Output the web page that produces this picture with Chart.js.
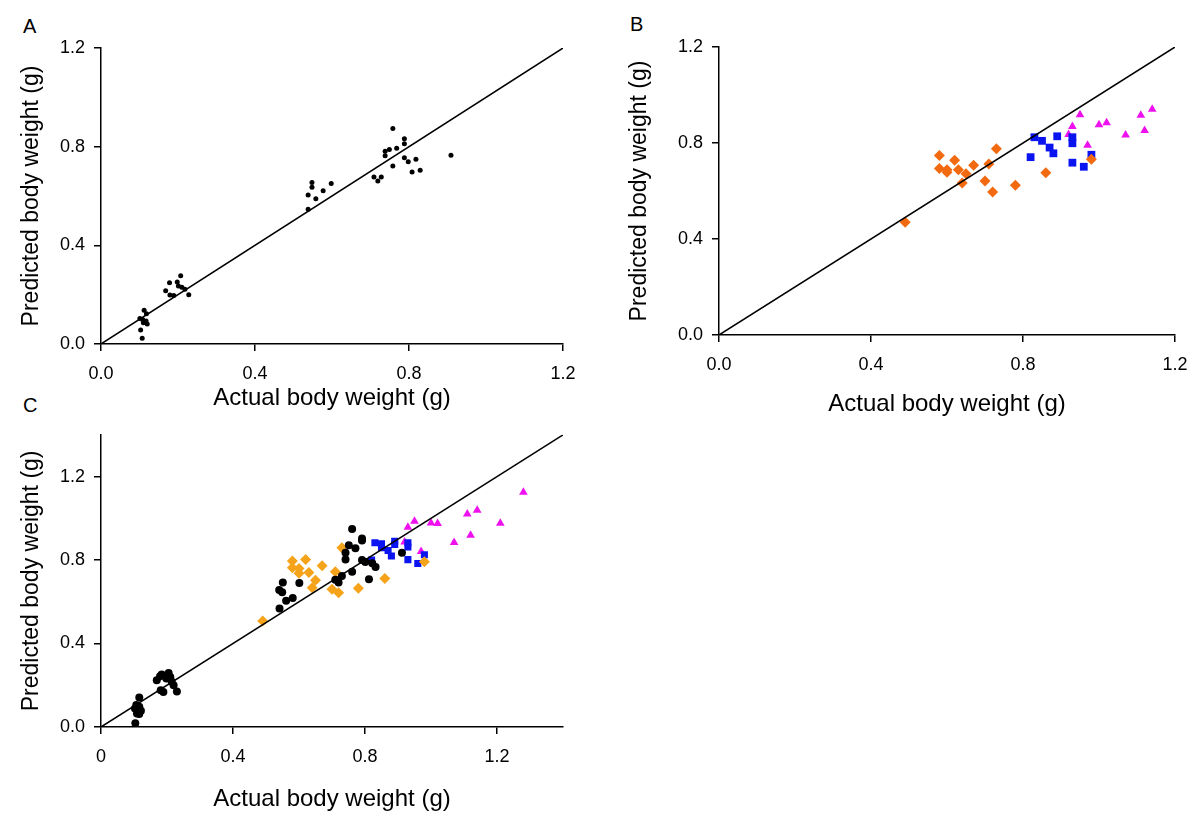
<!DOCTYPE html>
<html>
<head>
<meta charset="utf-8">
<script src="https://cdn.jsdelivr.net/npm/chart.js@4.4.1/dist/chart.umd.min.js"></script>
<style>
  body { margin: 0; background: #fff; width: 1200px; height: 826px; overflow: hidden; position: relative; font-family: "Liberation Sans", Arial, sans-serif; }
  .panel { position: absolute; }
  .letter { position: absolute; font-size: 20px; line-height: 20px; color: #000; }
</style>
</head>
<body>
<div class="letter" style="left:23px;top:16px">A</div>
<div class="letter" style="left:630px;top:14px">B</div>
<div class="letter" style="left:23px;top:395px">C</div>

<div class="panel" style="left:0;top:0"><canvas id="chart-a" width="600" height="415"></canvas></div>
<div class="panel" style="left:610px;top:0"><canvas id="chart-b" width="590" height="430"></canvas></div>
<div class="panel" style="left:0;top:415px"><canvas id="chart-c" width="600" height="411"></canvas></div>

<script>
const FONT = '"Liberation Sans", Arial, sans-serif';

// ---- tick labels ----
const ticksAB = [0, 0.4, 0.8, 1.2];
const ticksC = [0, 0.4, 0.8, 1.2];
const lineAB = [0, 1.2];
const lineC = [0, 1.4];

// ---- panel A: single model, all fish ----
const aActual = [0.107, 0.103, 0.120, 0.110, 0.117, 0.108, 0.101, 0.118, 0.112,
    0.168, 0.179, 0.189, 0.178, 0.198, 0.201, 0.207, 0.210, 0.218, 0.228,
    0.538, 0.538, 0.548, 0.548, 0.558, 0.577, 0.598, 0.709, 0.719, 0.728, 0.738, 0.738,
    0.749, 0.758, 0.758, 0.768, 0.788, 0.788, 0.788, 0.798, 0.808, 0.818, 0.829, 0.909];
const aPredicted = [0.023, 0.057, 0.081, 0.086, 0.093, 0.099, 0.103, 0.123, 0.137,
    0.216, 0.199, 0.197, 0.248, 0.251, 0.235, 0.277, 0.230, 0.222, 0.200,
    0.546, 0.604, 0.635, 0.655, 0.589, 0.621, 0.651, 0.677, 0.661, 0.677, 0.763, 0.781,
    0.789, 0.722, 0.874, 0.794, 0.832, 0.812, 0.755, 0.739, 0.697, 0.749, 0.704, 0.765];

// ---- panel B: three groups ----
const bOrangeX = [0.49, 0.58, 0.58, 0.60, 0.60, 0.62, 0.63, 0.65, 0.64, 0.67, 0.71, 0.73, 0.70, 0.72, 0.78, 0.86, 0.98];
const bOrangeY = [0.470, 0.748, 0.694, 0.689, 0.678, 0.728, 0.689, 0.672, 0.633, 0.707, 0.712, 0.776, 0.642, 0.596, 0.624, 0.676, 0.732];
const bBlueX = [0.83, 0.85, 0.87, 0.88, 0.82, 0.89, 0.93, 0.93, 0.93, 0.96, 0.98];
const bBlueY = [0.824, 0.809, 0.781, 0.757, 0.741, 0.828, 0.824, 0.799, 0.718, 0.701, 0.751];
const bPinkX = [0.92, 0.93, 0.95, 0.97, 1.00, 1.02, 1.07, 1.11, 1.12, 1.14];
const bPinkY = [0.835, 0.869, 0.918, 0.791, 0.876, 0.884, 0.833, 0.916, 0.852, 0.941];

// ---- panel C: combined ----
const cBlackX = [0.104, 0.116, 0.107, 0.116, 0.103, 0.113, 0.121, 0.109, 0.116,
    0.169, 0.179, 0.184, 0.205, 0.210, 0.198, 0.214, 0.220, 0.181, 0.189, 0.230,
    0.761, 0.791, 0.791, 0.751, 0.741, 0.771, 0.741, 0.791, 0.801, 0.822, 0.832, 0.761,
    0.730, 0.710, 0.720, 0.812, 0.912, 0.601, 0.551, 0.540, 0.549, 0.581, 0.561, 0.541];
const cBlackY = [0.018, 0.141, 0.105, 0.097, 0.089, 0.078, 0.078, 0.065, 0.062,
    0.224, 0.243, 0.252, 0.259, 0.240, 0.232, 0.218, 0.200, 0.176, 0.168, 0.170,
    0.949, 0.903, 0.894, 0.871, 0.835, 0.856, 0.803, 0.800, 0.790, 0.784, 0.767, 0.744,
    0.724, 0.705, 0.692, 0.708, 0.835, 0.690, 0.692, 0.656, 0.646, 0.618, 0.605, 0.568];
const cOrangeX = [0.49, 0.58, 0.58, 0.60, 0.60, 0.62, 0.63, 0.65, 0.64, 0.67, 0.70, 0.71, 0.72, 0.73, 0.78, 0.86, 0.98];
const cOrangeY = [0.508, 0.795, 0.763, 0.760, 0.737, 0.803, 0.740, 0.703, 0.667, 0.773, 0.660, 0.744, 0.643, 0.859, 0.665, 0.711, 0.792];
const cBlueX = [0.83, 0.85, 0.85, 0.87, 0.88, 0.82, 0.89, 0.89, 0.93, 0.93, 0.93, 0.96, 0.98];
const cBlueY = [0.883, 0.878, 0.859, 0.846, 0.819, 0.800, 0.890, 0.875, 0.883, 0.862, 0.802, 0.783, 0.825];
const cPinkX = [0.92, 0.93, 0.95, 0.97, 1.00, 1.02, 1.07, 1.11, 1.12, 1.14, 1.21, 1.28];
const cPinkY = [0.886, 0.957, 0.986, 0.841, 0.978, 0.975, 0.884, 1.021, 0.919, 1.038, 0.976, 1.125];

function toPoints(xs, ys) {
    return xs.map((x, i) => ({ x: x, y: ys[i] }));
}

function pointSet(xs, ys, style, radius, color) {
    return {
        data: toPoints(xs, ys),
        pointStyle: style,
        pointRadius: radius,
        backgroundColor: color,
        borderColor: color,
        borderWidth: 0,
        showLine: false
    };
}

function identityLine(vals) {
    return {
        data: toPoints(vals, vals),
        showLine: true,
        pointRadius: 0,
        borderColor: '#000',
        borderWidth: 1.5,
        fill: false
    };
}

function axis(isX, title, max, tickList, fmt, fitSize, titlePad) {
    return {
        type: 'linear',
        min: 0,
        max: max,
        afterBuildTicks: s => { s.ticks = tickList.map(v => ({ value: v })); },
        afterFit: s => { if (isX) { s.height = fitSize; } else { s.width = fitSize; } },
        grid: { display: true, drawOnChartArea: false, drawTicks: true, tickLength: 7, color: '#000', lineWidth: 1.5 },
        border: { display: true, color: '#000', width: 1.5 },
        ticks: { color: '#000', font: { size: 18, family: FONT }, padding: isX ? 12 : 9, maxRotation: 0, callback: fmt },
        title: { display: true, text: title, color: '#000', font: { size: isX ? 24 : 23, family: FONT }, padding: titlePad }
    };
}

const fmt1 = v => v.toFixed(1);
const fmtC = v => (v === 0 ? '0' : v.toFixed(1));

function makeChart(id, datasets, xScale, yScale, padding) {
    return new Chart(document.getElementById(id).getContext('2d'), {
        type: 'scatter',
        data: { datasets: datasets },
        options: {
            responsive: false,
            animation: false,
            events: [],
            layout: { padding: padding },
            plugins: { legend: { display: false }, tooltip: { enabled: false } },
            scales: { x: xScale, y: yScale }
        }
    });
}

/*---------------- A ----------------*/
makeChart('chart-a',
    [identityLine(lineAB), pointSet(aActual, aPredicted, 'circle', 2.5, '#000')],
    axis(true, 'Actual body weight (g)', 1.2, ticksAB, fmt1, 71, { top: 0, bottom: 2 }),
    axis(false, 'Predicted body weight (g)', 1.2, ticksAB, fmt1, 101, { top: 18, bottom: 0 }),
    { top: 48, right: 37, left: 0, bottom: 0 });

/*---------------- B ----------------*/
makeChart('chart-b',
    [identityLine(lineAB),
     pointSet(bOrangeX, bOrangeY, 'rectRot', 5.5, '#f26a10'),
     pointSet(bBlueX, bBlueY, 'rect', 5.5, '#0a14f0'),
     pointSet(bPinkX, bPinkY, 'triangle', 5, '#ee10ee')],
    axis(true, 'Actual body weight (g)', 1.2, ticksAB, fmt1, 95, { top: 0, bottom: 11 }),
    axis(false, 'Predicted body weight (g)', 1.2, ticksAB, fmt1, 109, { top: 16, bottom: 0 }),
    { top: 47, right: 25, left: 0, bottom: 0 });

/*---------------- C ----------------*/
makeChart('chart-c',
    [identityLine(lineC),
     pointSet(cBlackX, cBlackY, 'circle', 4, '#000'),
     pointSet(cOrangeX, cOrangeY, 'rectRot', 5.5, '#f5a31a'),
     pointSet(cBlueX, cBlueY, 'rect', 5, '#0a14f0'),
     pointSet(cPinkX, cPinkY, 'triangle', 5, '#ee10ee')],
    axis(true, 'Actual body weight (g)', 1.4, ticksC, fmtC, 99, { top: 0, bottom: 12 }),
    axis(false, 'Predicted body weight (g)', 1.4, ticksC, fmt1, 101, { top: 18, bottom: 0 }),
    { top: 18, right: 37, left: 0, bottom: 0 });
</script>
</body>
</html>
